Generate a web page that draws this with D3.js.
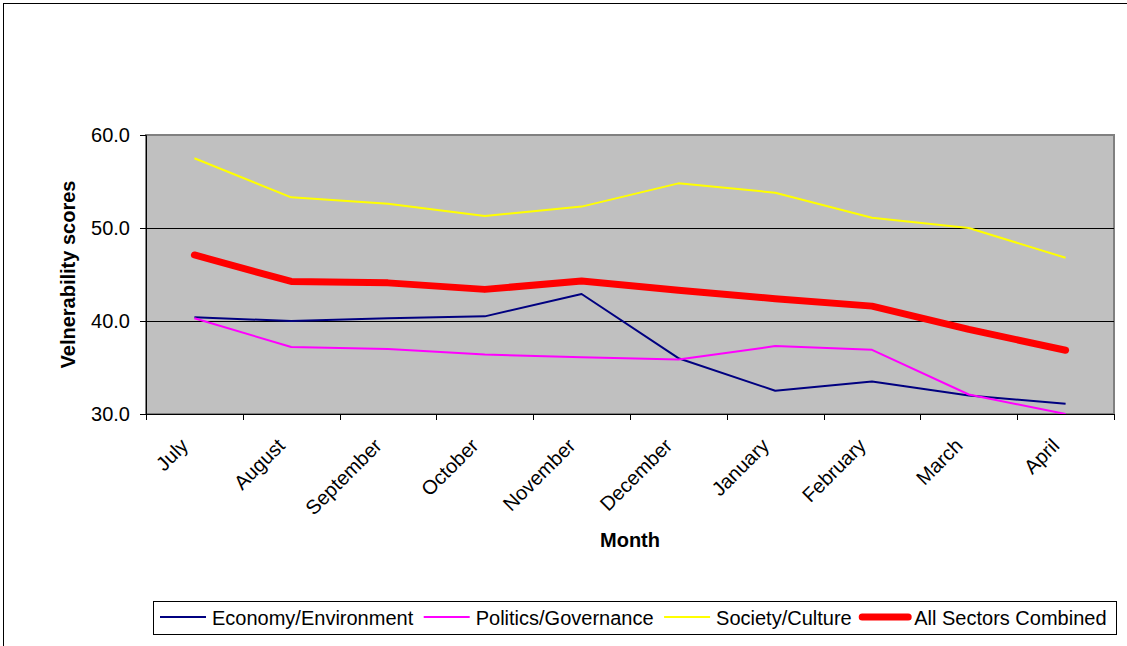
<!DOCTYPE html>
<html>
<head>
<meta charset="utf-8">
<script src="https://cdn.jsdelivr.net/npm/d3@7"></script>
<style>
  html, body { margin: 0; padding: 0; background: #fff; }
  svg { display: block; font-family: "Liberation Sans", Arial, sans-serif; }
</style>
</head>
<body>
<svg id="chart" width="1127" height="646"></svg>
<script>
const months = ["July", "August", "September", "October", "November", "December", "January", "February", "March", "April"];
const economy  = [40.4, 40.0, 40.3, 40.5, 42.9, 36.0, 32.5, 33.5, 32.0, 31.1];
const politics = [40.3, 37.2, 37.0, 36.4, 36.1, 35.85, 37.3, 36.9, 32.1, 30.0];
const society  = [57.5, 53.3, 52.6, 51.3, 52.3, 54.8, 53.8, 51.1, 50.0, 46.8];
const combined = [47.1, 44.25, 44.1, 43.4, 44.3, 43.3, 42.4, 41.6, 39.1, 36.85];
const seriesNames = ["Economy/Environment", "Politics/Governance", "Society/Culture", "All Sectors Combined"];
const yTicks = [30, 40, 50, 60];
const gridValues = [40, 50];

const seriesData = [economy, politics, society, combined];
const seriesColors = ["#000080", "#FF00FF", "#FFFF00", "#FF0000"];
const seriesWidths = [2, 2, 2, 7];

const svg = d3.select("#chart");
const plot = { left: 146, right: 1114, top: 135, bottom: 414 };
const FS = 20;

// outer chart border (extends beyond the visible frame on right/bottom)
svg.append("rect").attr("x", 3.5).attr("y", 3.5).attr("width", 1300).attr("height", 800)
  .attr("fill", "#fff").attr("stroke", "#000").attr("stroke-width", 1);

const x = d3.scaleBand().domain(months).range([plot.left, plot.right]).paddingInner(0).paddingOuter(0);
const y = d3.scaleLinear().domain([30, 60]).range([plot.bottom, plot.top]);

// plot area
svg.append("rect")
  .attr("x", plot.left).attr("y", plot.top)
  .attr("width", plot.right - plot.left).attr("height", plot.bottom - plot.top)
  .attr("fill", "#C0C0C0").attr("stroke", "#808080").attr("stroke-width", 2);

// gridlines
svg.append("g").selectAll("line").data(gridValues).join("line")
  .attr("x1", plot.left).attr("x2", plot.right)
  .attr("y1", d => Math.round(y(d)) + 0.5).attr("y2", d => Math.round(y(d)) + 0.5)
  .attr("stroke", "#000").attr("stroke-width", 1);

// series lines
const line = d3.line().x((d, i) => x(months[i]) + x.bandwidth() / 2).y(d => y(d));
seriesData.forEach((arr, k) => {
  svg.append("path").datum(arr)
    .attr("d", line)
    .attr("fill", "none")
    .attr("stroke", seriesColors[k])
    .attr("stroke-width", seriesWidths[k])
    .attr("stroke-linejoin", "round")
    .attr("stroke-linecap", k === 3 ? "round" : "butt");
});

// y axis
const yAxis = svg.append("g").attr("transform", `translate(${plot.left},0)`)
  .call(d3.axisLeft(y).tickValues(yTicks).tickFormat(d3.format(".1f")).tickSize(6).tickPadding(10));
yAxis.select(".domain").attr("stroke", "#000");
yAxis.selectAll(".tick line").attr("stroke", "#000");
yAxis.selectAll("text").attr("font-size", FS).attr("fill", "#000")
  .attr("font-family", "'Liberation Sans', Arial, sans-serif");

// x axis
const xAxis = svg.append("g").attr("transform", `translate(0,${plot.bottom})`)
  .call(d3.axisBottom(x).tickSize(0).tickPadding(0));
xAxis.select(".domain").attr("stroke", "#000");
xAxis.selectAll(".tick text")
  .attr("font-size", FS).attr("fill", "#000")
  .attr("font-family", "'Liberation Sans', Arial, sans-serif")
  .attr("text-anchor", "end")
  .attr("dy", 0).attr("y", 0)
  .attr("transform", `translate(-5,33) rotate(-45)`);
// boundary ticks between categories
const boundaries = months.map(m => x(m)).concat([x(months[months.length - 1]) + x.step()]);
svg.append("g").selectAll("line").data(boundaries).join("line")
  .attr("x1", d => Math.round(d) + 0.5).attr("x2", d => Math.round(d) + 0.5)
  .attr("y1", plot.bottom).attr("y2", plot.bottom + 6)
  .attr("stroke", "#000").attr("stroke-width", 1);

// axis titles
svg.append("text").attr("x", (plot.left + plot.right) / 2).attr("y", 547)
  .attr("text-anchor", "middle").attr("font-weight", "bold").attr("font-size", FS)
  .text("Month");
svg.append("text")
  .attr("transform", `translate(75,${(plot.top + plot.bottom) / 2}) rotate(-90)`)
  .attr("text-anchor", "middle").attr("font-weight", "bold").attr("font-size", FS)
  .text("Velnerability scores");

// legend
const lg = svg.append("g");
const legendBox = lg.append("rect").attr("fill", "#fff").attr("stroke", "#000").attr("stroke-width", 1);
let cx = 160;
const ly = 617;
seriesNames.forEach((name, k) => {
  lg.append("line").attr("x1", cx).attr("x2", cx + 46).attr("y1", ly).attr("y2", ly)
    .attr("stroke", seriesColors[k]).attr("stroke-width", k === 3 ? 7 : 2)
    .attr("stroke-linecap", k === 3 ? "round" : "butt");
  const t = lg.append("text").attr("x", cx + 52).attr("y", ly + 8)
    .attr("font-size", FS).attr("fill", "#000").text(name);
  cx += 52 + t.node().getComputedTextLength() + 10.5;
});
legendBox.attr("x", 153.5).attr("y", 601.5).attr("width", Math.round(cx - 10.5 + 9 - 153)).attr("height", 33);
</script>
</body>
</html>
